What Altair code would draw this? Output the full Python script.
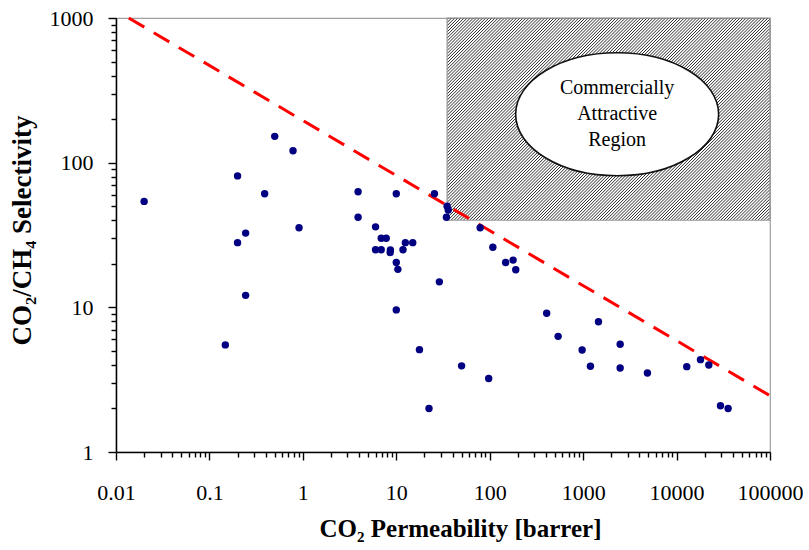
import altair as alt
import numpy as np
import pandas as pd

# ---- data ----
perm = [0.02, 0.148, 0.2, 0.2, 0.244, 0.244, 0.39, 0.5, 0.785, 0.91, 3.9, 3.9,
        6.0, 6.0, 6.9, 6.9, 7.8, 8.65, 8.6, 10, 10, 10.4, 10, 11.8, 12.5, 15,
        17.7, 22.4, 25.6, 28.9, 35, 36, 34.4, 50, 79, 97.5, 108, 148, 178, 190,
        407, 540, 975, 1197, 1459, 2490, 2490, 4876, 12850, 18030, 22130, 29500, 35600]
sel = [54, 5.5, 81, 28, 32.6, 12.1, 61, 152, 121, 35.5, 63, 42,
       36, 25, 25, 30, 30, 24.9, 23.9, 61, 20.4, 18.3, 9.6, 25, 28, 28,
       5.1, 2.0, 61, 15, 50, 47, 42, 3.94, 35.5, 3.22, 26, 20.4, 21.2, 18.2,
       9.1, 6.3, 5.07, 3.92, 7.96, 5.55, 3.81, 3.52, 3.89, 4.35, 3.99, 2.09, 2.0]

bound_perm = [0.0137, 100000]
bound_sel = [1000, 2.45]

region_perm = [35, 100000]
region_sel = [40, 1000]

label_perm = [2312]
label_sel = [216]
label_text = ["Commercially\nAttractive\nRegion"]

x_ticks = [0.01, 0.1, 1, 10, 100, 1000, 10000, 100000]
y_ticks = [1, 10, 100, 1000]
x_all_ticks = [k * 10.0 ** e for e in range(-2, 5) for k in range(1, 10)] + [100000]
y_all_ticks = [k * 10.0 ** e for e in range(0, 3) for k in range(1, 10)] + [1000]

# ---- layout ----
W, H = 654, 434
FONT = "Liberation Serif"
xs = alt.Scale(type="log", domain=[0.01, 100000], nice=False)
ys = alt.Scale(type="log", domain=[1, 1000], nice=False)
pxx, pxy = W / 7.0, H / 3.0   # pixels per decade

pts = pd.DataFrame({"perm": perm, "sel": sel})
bound = pd.DataFrame({"perm": bound_perm, "sel": bound_sel})
region = pd.DataFrame({"x0": [region_perm[0]], "x1": [region_perm[1]],
                       "y0": [region_sel[0]], "y1": [region_sel[1]]})
lab = pd.DataFrame({"perm": label_perm, "sel": label_sel, "t": label_text})

# hatch pattern lines ("/") inside the attractive region, spaced in pixels
lx0, lx1 = np.log10(region_perm)
ly0, ly1 = np.log10(region_sel)
Wr, Hr = (lx1 - lx0) * pxx, (ly1 - ly0) * pxy
rows = []
for c in np.arange(-Hr + 1.5, Wr, 3.1):
    u0 = max(c, 0.0); v0 = u0 - c
    u1 = min(Wr, Hr + c); v1 = u1 - c
    rows.append({"a": 10 ** (lx0 + u0 / pxx), "b": 10 ** (ly0 + v0 / pxy),
                 "a2": 10 ** (lx0 + u1 / pxx), "b2": 10 ** (ly0 + v1 / pxy)})
hatch = pd.DataFrame(rows)

hatch_layer = alt.Chart(hatch).mark_rule(color="#2a2a2a", strokeWidth=1).encode(
    x=alt.X("a:Q", scale=xs, axis=None), y=alt.Y("b:Q", scale=ys, axis=None),
    x2="a2:Q", y2="b2:Q")

region_layer = alt.Chart(region).mark_rect(fillOpacity=0, stroke="#9a9a9a", strokeWidth=1.2).encode(
    x=alt.X("x0:Q", scale=xs, axis=None), x2="x1:Q",
    y=alt.Y("y0:Q", scale=ys, axis=None), y2="y1:Q")

k, ry = 0.5523, 0.606
ellipse_path = (f"M -1 0 C -1 {-k*ry:.4f} {-k:.4f} {-ry} 0 {-ry} "
                f"C {k:.4f} {-ry} 1 {-k*ry:.4f} 1 0 "
                f"C 1 {k*ry:.4f} {k:.4f} {ry} 0 {ry} "
                f"C {-k:.4f} {ry} -1 {k*ry:.4f} -1 0 Z")
ellipse_layer = alt.Chart(lab).mark_point(
    shape=ellipse_path, size=203 * 203, filled=True, fill="white",
    stroke="#111111", strokeWidth=1.6, opacity=1).encode(
    x=alt.X("perm:Q", scale=xs, axis=None), y=alt.Y("sel:Q", scale=ys, axis=None))

text_layer = alt.Chart(lab).mark_text(
    font=FONT, fontSize=20, lineHeight=26, lineBreak="\n", align="center",
    baseline="middle", dy=-26, color="black").encode(
    x=alt.X("perm:Q", scale=xs, axis=None), y=alt.Y("sel:Q", scale=ys, axis=None),
    text="t:N")

line_layer = alt.Chart(bound).mark_line(color="#ff0000", strokeWidth=3, strokeDash=[18, 11]).encode(
    x=alt.X("perm:Q", scale=xs, axis=None), y=alt.Y("sel:Q", scale=ys, axis=None))

MAJOR = "abs(log(datum.value)/LN10 - round(log(datum.value)/LN10)) < 0.001"

x_axis = alt.Axis(orient="bottom", values=x_all_ticks, format="~g",
                  labelExpr=f"({MAJOR}) ? datum.label : ''", grid=False,
                  tickSize={"condition": {"test": MAJOR, "value": 8}, "value": 5},
                  tickWidth=1.4, tickColor="black", domainColor="black", domainWidth=1.5,
                  labelFont=FONT, labelFontSize=22, labelColor="black", labelPadding=22,
                  labelFlush=False, labelOverlap=False,
                  title="CO₂ Permeability [barrer]", titleFont=FONT, titleFontSize=25,
                  titleFontWeight="bold", titleColor="black", titleX=344, titleY=84,
                  titleAlign="center", titleBaseline="alphabetic")
y_axis = alt.Axis(orient="left", values=y_all_ticks, format="~g",
                  labelExpr=f"({MAJOR}) ? datum.label : ''", grid=False,
                  tickSize={"condition": {"test": MAJOR, "value": 8}, "value": 5},
                  tickWidth=1.4, tickColor="black", domainColor="black", domainWidth=1.5,
                  labelFont=FONT, labelFontSize=22, labelColor="black", labelPadding=15,
                  labelFlush=False, labelOverlap=False,
                  title="CO₂/CH₄ Selectivity", titleFont=FONT, titleFontSize=27,
                  titleFontWeight="bold", titleColor="black", titleX=-94, titleY=212,
                  titleAlign="center", titleBaseline="middle", titleAngle=-90)

points_layer = alt.Chart(pts).mark_circle(size=55, color="#000080", opacity=1).encode(
    x=alt.X("perm:Q", scale=xs, axis=x_axis), y=alt.Y("sel:Q", scale=ys, axis=y_axis))

chart = alt.layer(hatch_layer, region_layer, ellipse_layer, text_layer,
                  line_layer, points_layer).resolve_axis(
    x="independent", y="independent").properties(
    width=W, height=H, autosize=alt.AutoSizeParams(type="none"),
    padding={"left": 116, "top": 18, "right": 39, "bottom": 98},
    background="white").configure_view(stroke="#a0a0a0", strokeWidth=1.2)

chart.save("out.html", embed_options={"renderer": "svg", "actions": False})
